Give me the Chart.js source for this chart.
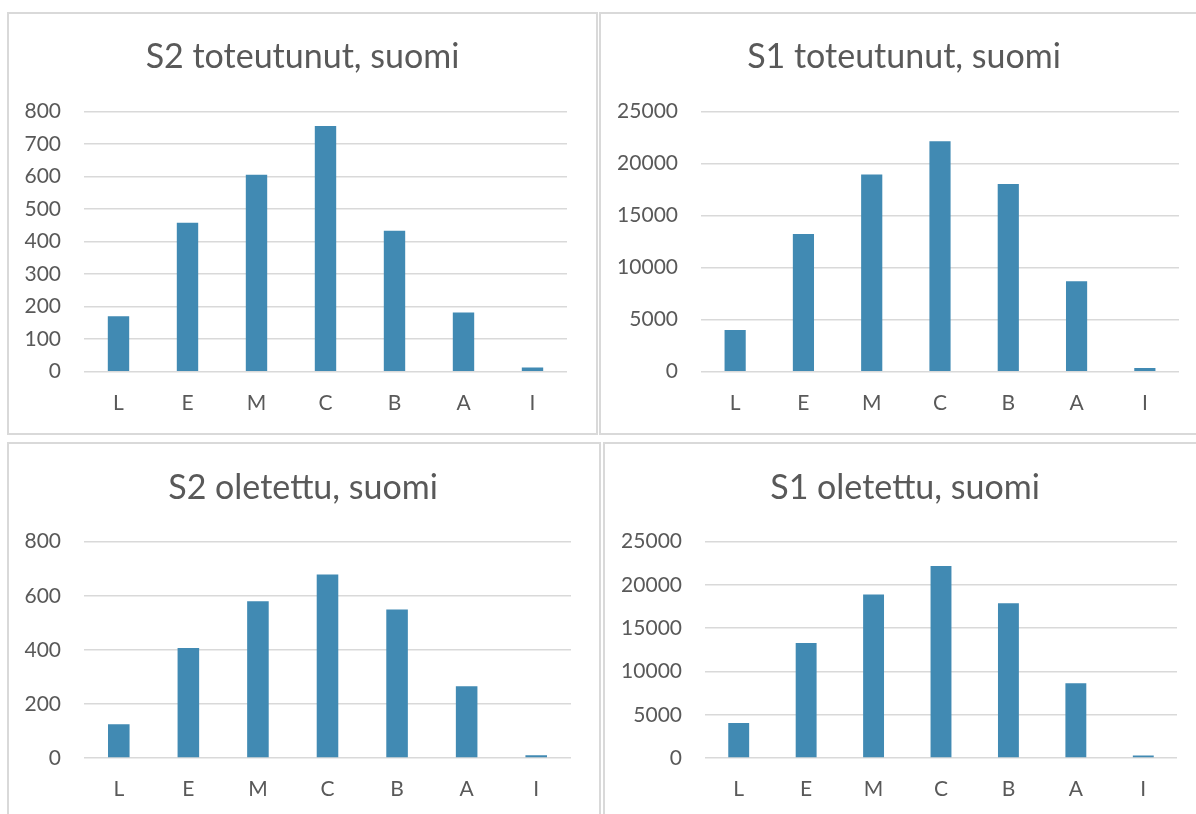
<!DOCTYPE html>
<html>
<head>
<meta charset="utf-8">
<script src="https://cdn.jsdelivr.net/npm/chart.js@4"></script>
<style>
  html, body { margin: 0; padding: 0; background: #fff; width: 1196px; height: 814px; overflow: hidden; position: relative; }
  .panel { position: absolute; border: 2px solid #d9d9d9; box-sizing: border-box; }
  canvas { position: absolute; }
</style>
</head>
<body>
<div class="panel" style="left:7px;top:12px;width:591px;height:423px"></div>
<div class="panel" style="left:599px;top:12px;width:620px;height:423px"></div>
<div class="panel" style="left:7px;top:442px;width:594px;height:400px"></div>
<div class="panel" style="left:603px;top:442px;width:620px;height:400px"></div>

<canvas id="c1"></canvas>
<canvas id="c2"></canvas>
<canvas id="c3"></canvas>
<canvas id="c4"></canvas>

<script>
// data
const categories = ['L', 'E', 'M', 'C', 'B', 'A', 'I'];
const s2Toteutunut = [171, 458, 606, 756, 434, 182, 13];
const s1Toteutunut = [4000, 13250, 18950, 22150, 18050, 8700, 350];
const s2Oletettu = [125, 407, 580, 679, 549, 265, 10];
const s1Oletettu = [4050, 13300, 18900, 22200, 17900, 8650, 300];

const titles = ['S2 toteutunut, suomi', 'S1 toteutunut, suomi', 'S2 oletettu, suomi', 'S1 oletettu, suomi'];
const yMax = [800, 25000, 800, 25000];
const yStep = [100, 5000, 200, 5000];

const textColor = '#595959';
const gridColor = '#d9d9d9';
const barColor = '#418ab3';
const fontFamily = 'Lato, "Open Sans", sans-serif';

// canvas box, left axis width, empty right axis width (keeps the title centred), title padding
const boxes = [
  { id: 'c1', left: 0,   top: 13,  w: 605, h: 421, yW: 84,  rW: 38, xH: 62.3, tTop: 23.6, tBot: 34.3 },
  { id: 'c2', left: 600, top: 13,  w: 608, h: 421, yW: 101, rW: 29, xH: 62.3, tTop: 23.6, tBot: 34.3 },
  { id: 'c3', left: 0,   top: 443, w: 606, h: 371, yW: 84,  rW: 35, xH: 56,   tTop: 24.3, tBot: 33.6 },
  { id: 'c4', left: 604, top: 443, w: 602, h: 371, yW: 101, rW: 29, xH: 56,   tTop: 24.3, tBot: 33.6 }
];
const series = [s2Toteutunut, s1Toteutunut, s2Oletettu, s1Oletettu];

boxes.forEach((b, i) => {
  const cv = document.getElementById(b.id);
  cv.width = b.w; cv.height = b.h;
  cv.style.left = b.left + 'px'; cv.style.top = b.top + 'px';
  cv.style.width = b.w + 'px'; cv.style.height = b.h + 'px';

  new Chart(cv.getContext('2d'), {
    type: 'bar',
    data: {
      labels: categories,
      datasets: [{ data: series[i], backgroundColor: barColor, borderWidth: 0, categoryPercentage: 1, barPercentage: 0.31 }]
    },
    options: {
      responsive: false,
      animation: false,
      devicePixelRatio: 1,
      layout: { padding: 0 },
      plugins: {
        legend: { display: false },
        tooltip: { enabled: false },
        title: {
          display: true,
          text: titles[i],
          color: textColor,
          font: { family: fontFamily, size: 34, weight: 'normal', lineHeight: 1.2 },
          padding: { top: b.tTop, bottom: b.tBot }
        }
      },
      scales: {
        x: {
          grid: { display: false, drawTicks: false },
          border: { display: false },
          ticks: { color: textColor, font: { family: fontFamily, size: 21 }, padding: 19 },
          afterFit: s => { s.height = b.xH; }
        },
        y: {
          min: 0,
          max: yMax[i],
          ticks: {
            stepSize: yStep[i], color: textColor, font: { family: fontFamily, size: 21 }, padding: 23,
            callback: v => String(v)
          },
          grid: { color: gridColor, lineWidth: 1.5, drawTicks: false },
          border: { display: false },
          afterFit: s => { s.width = b.yW; }
        },
        yR: {
          position: 'right',
          ticks: { display: false },
          grid: { display: false, drawTicks: false },
          border: { display: false },
          afterFit: s => { s.width = b.rW; }
        }
      }
    }
  });
});
</script>
</body>
</html>
